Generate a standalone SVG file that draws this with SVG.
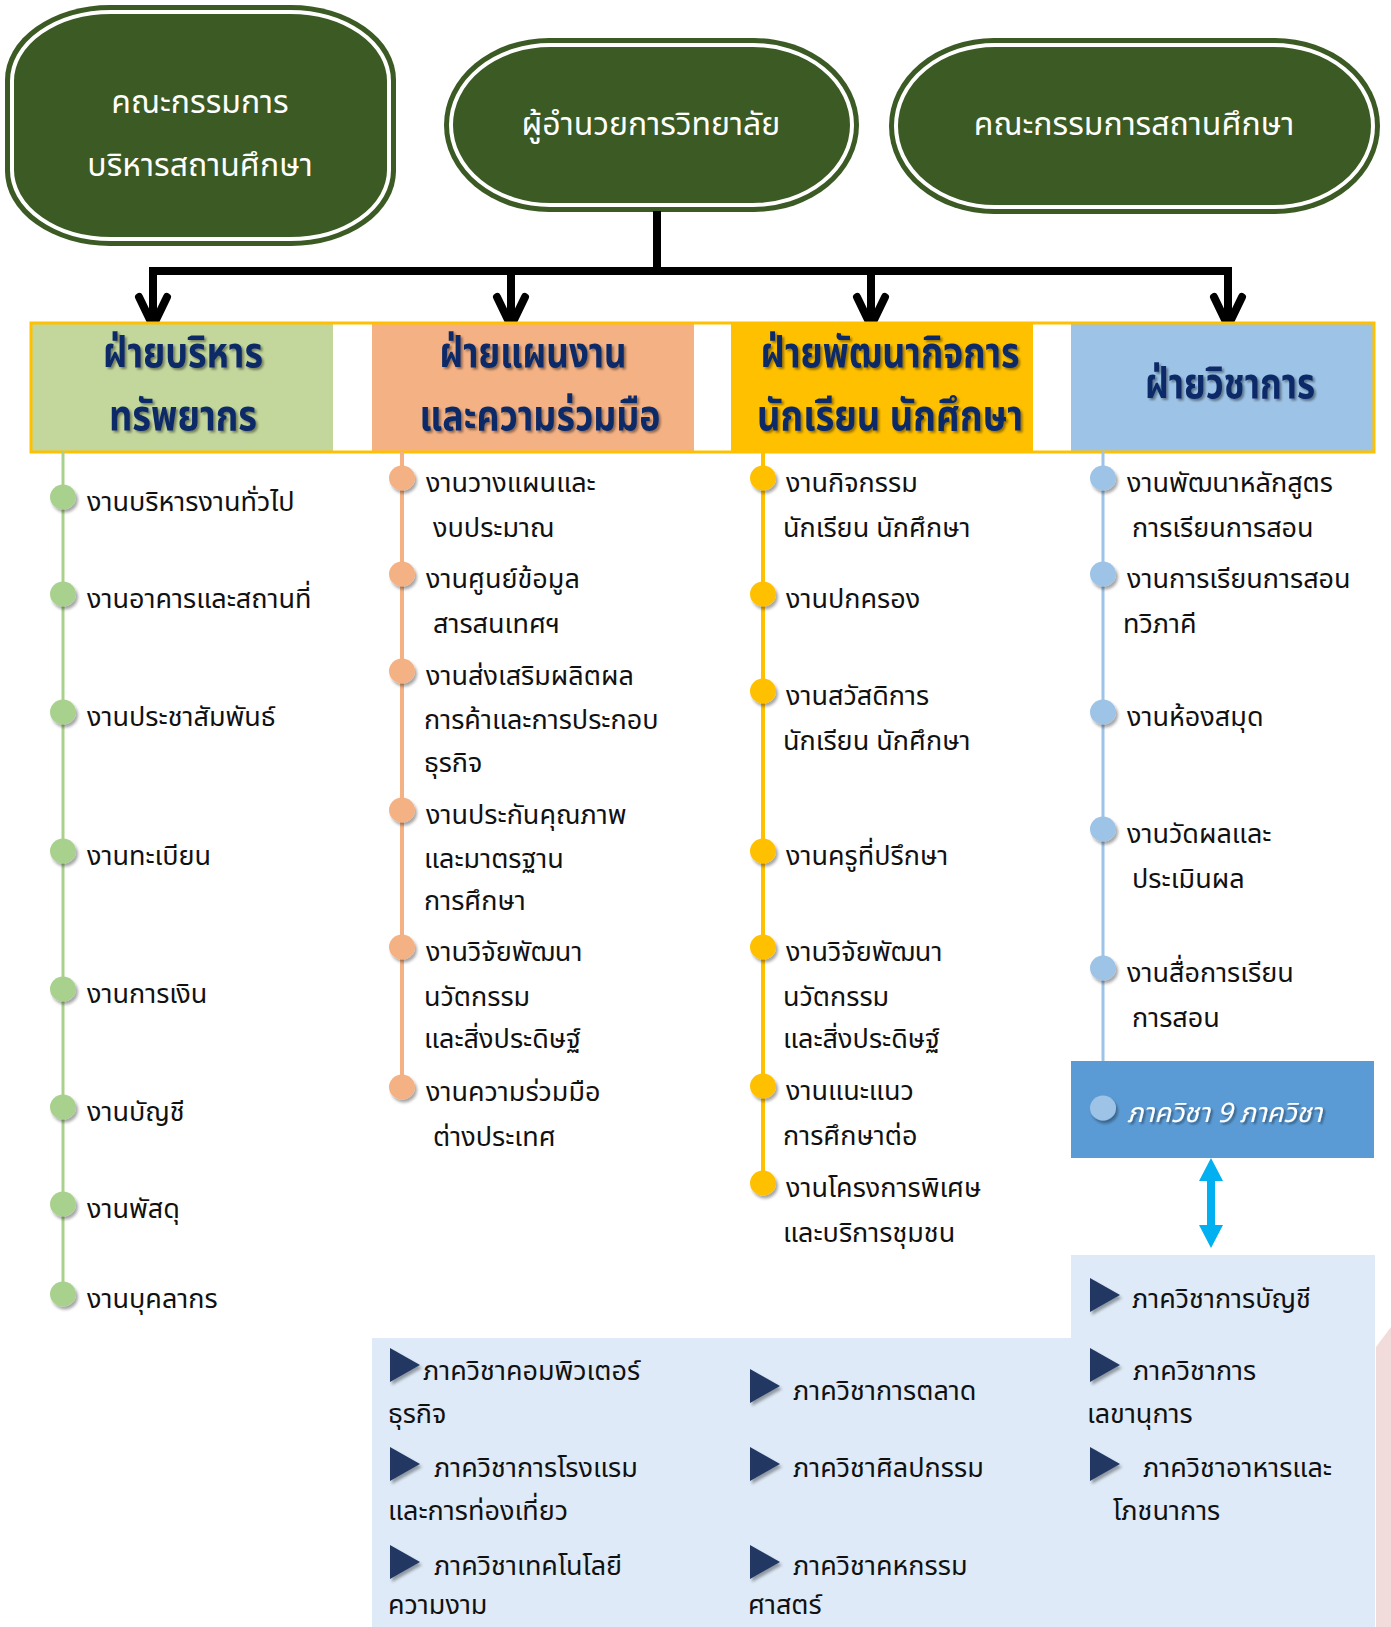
<svg xmlns="http://www.w3.org/2000/svg" width="1391" height="1627" viewBox="0 0 1391 1627">
<defs>
<style>
text{font-family:"Noto Sans Thai","Noto Sans","DejaVu Sans",sans-serif;}
.top{fill:#fff;font-size:32px;text-anchor:middle;}
.hdr{fill:#0E2A68;font-size:42px;font-weight:bold;text-anchor:middle;filter:url(#tsh);}
.it{fill:#111;font-size:27px;}
.dp{fill:#111;font-size:27px;}
.node-out{fill:#3B5A24;}
.node-ring{fill:none;stroke:#fff;stroke-width:4;}
.conn{stroke:#000;stroke-width:8;fill:none;}
.chev{stroke:#000;stroke-width:8;fill:none;stroke-linecap:round;stroke-linejoin:miter;}
.tri{fill:#203864;filter:url(#sh);}
</style>
<filter id="sh" x="-30%" y="-30%" width="170%" height="170%">
<feDropShadow dx="2" dy="3" stdDeviation="1.5" flood-color="#000" flood-opacity="0.35"/>
</filter>
<filter id="tsh" x="-10%" y="-10%" width="120%" height="130%">
<feDropShadow dx="2" dy="2" stdDeviation="1" flood-color="#000" flood-opacity="0.4"/>
</filter>
</defs>

<g id="node-board">
<rect class="node-out" x="5" y="5" width="391" height="241" rx="105" ry="75"/>
<rect class="node-ring" x="12" y="12" width="377" height="227" rx="99" ry="69"/>
<text class="top" x="200" y="113">คณะกรรมการ</text>
<text class="top" x="200" y="176">บริหารสถานศึกษา</text>
</g>
<g id="node-director">
<rect class="node-out" x="444" y="38" width="415" height="174" rx="105" ry="87"/>
<rect class="node-ring" x="451" y="45" width="401" height="160" rx="99" ry="80"/>
<text class="top" x="651" y="135">ผู้อำนวยการวิทยาลัย</text>
</g>
<g id="node-committee">
<rect class="node-out" x="889" y="38" width="491" height="176" rx="105" ry="88"/>
<rect class="node-ring" x="896" y="45" width="477" height="162" rx="99" ry="81"/>
<text class="top" x="1134" y="135">คณะกรรมการสถานศึกษา</text>
</g>

<g id="connectors">
<path class="conn" d="M657 211 V271 M149 271 H1232 M153 271 V326 M511 271 V326 M871 271 V326 M1228 271 V326"/>
<path class="chev" d="M139 297 L153 326 L167 297 M497 297 L511 326 L525 297 M857 297 L871 326 L885 297 M1214 297 L1228 326 L1242 297"/>
<path d="M1211 1158 L1223 1181 L1215 1181 L1215 1225 L1223 1225 L1211 1248 L1199 1225 L1207 1225 L1207 1181 L1199 1181 Z" fill="#00B0F0"/>
</g>

<g id="headers">
<rect x="31" y="323" width="302" height="129" fill="#C3D69B"/>
<rect x="372" y="323" width="322" height="129" fill="#F4B183"/>
<rect x="731" y="323" width="302" height="129" fill="#FFC000"/>
<rect x="1071" y="323" width="303" height="129" fill="#9DC3E6"/>
<rect x="31" y="323" width="1343" height="129" fill="none" stroke="#FFC000" stroke-width="3"/>
</g>
<g id="hdr-admin"><text class="hdr" x="183" y="367" textLength="160" lengthAdjust="spacingAndGlyphs">ฝ่ายบริหาร</text><text class="hdr" x="183" y="430" textLength="148" lengthAdjust="spacingAndGlyphs">ทรัพยากร</text></g>
<g id="hdr-plan"><text class="hdr" x="533" y="367" textLength="187" lengthAdjust="spacingAndGlyphs">ฝ่ายแผนงาน</text><text class="hdr" x="540" y="430" textLength="241" lengthAdjust="spacingAndGlyphs">และความร่วมมือ</text></g>
<g id="hdr-student"><text class="hdr" x="890" y="367" textLength="259" lengthAdjust="spacingAndGlyphs">ฝ่ายพัฒนากิจการ</text><text class="hdr" x="890" y="430" textLength="266" lengthAdjust="spacingAndGlyphs">นักเรียน นักศึกษา</text></g>
<g id="hdr-academic"><text class="hdr" x="1230" y="398" textLength="170" lengthAdjust="spacingAndGlyphs">ฝ่ายวิชาการ</text></g>

<g id="timelines">
<line x1="63" y1="452" x2="63" y2="1294" stroke="#A9D18E" stroke-width="3"/>
<line x1="402" y1="452" x2="402" y2="1087" stroke="#F4B183" stroke-width="4"/>
<line x1="763" y1="452" x2="763" y2="1183" stroke="#FFC000" stroke-width="4"/>
<line x1="1103" y1="452" x2="1103" y2="1061" stroke="#9DC3E6" stroke-width="3"/>
</g>

<g id="col-admin" fill="#A9D18E" filter="url(#sh)">
<ellipse cx="63" cy="497" rx="13" ry="12.5"/>
<ellipse cx="63" cy="594" rx="13" ry="12.5"/>
<ellipse cx="63" cy="712" rx="13" ry="12.5"/>
<ellipse cx="63" cy="851" rx="13" ry="12.5"/>
<ellipse cx="63" cy="989" rx="13" ry="12.5"/>
<ellipse cx="63" cy="1107" rx="13" ry="12.5"/>
<ellipse cx="63" cy="1204" rx="13" ry="12.5"/>
<ellipse cx="63" cy="1294" rx="13" ry="12.5"/>
</g>
<g id="items-admin">
<text class="it" x="87" y="511">งานบริหารงานทั่วไป</text>
<text class="it" x="87" y="608">งานอาคารและสถานที่</text>
<text class="it" x="87" y="726">งานประชาสัมพันธ์</text>
<text class="it" x="87" y="865">งานทะเบียน</text>
<text class="it" x="87" y="1003">งานการเงิน</text>
<text class="it" x="87" y="1121">งานบัญชี</text>
<text class="it" x="87" y="1218">งานพัสดุ</text>
<text class="it" x="87" y="1308">งานบุคลากร</text>
</g>

<g id="col-plan" fill="#F4B183" filter="url(#sh)">
<ellipse cx="402" cy="478" rx="13" ry="12.5"/>
<ellipse cx="402" cy="574" rx="13" ry="12.5"/>
<ellipse cx="402" cy="671" rx="13" ry="12.5"/>
<ellipse cx="402" cy="810" rx="13" ry="12.5"/>
<ellipse cx="402" cy="947" rx="13" ry="12.5"/>
<ellipse cx="402" cy="1087" rx="13" ry="12.5"/>
</g>
<g id="items-plan">
<text class="it" x="426" y="492">งานวางแผนและ</text>
<text class="it" x="433" y="537">งบประมาณ</text>
<text class="it" x="426" y="588">งานศูนย์ข้อมูล</text>
<text class="it" x="433" y="633">สารสนเทศฯ</text>
<text class="it" x="426" y="685">งานส่งเสริมผลิตผล</text>
<text class="it" x="424" y="729">การค้าและการประกอบ</text>
<text class="it" x="424" y="772">ธุรกิจ</text>
<text class="it" x="426" y="824">งานประกันคุณภาพ</text>
<text class="it" x="424" y="868">และมาตรฐาน</text>
<text class="it" x="424" y="910">การศึกษา</text>
<text class="it" x="426" y="961">งานวิจัยพัฒนา</text>
<text class="it" x="424" y="1006">นวัตกรรม</text>
<text class="it" x="424" y="1048">และสิ่งประดิษฐ์</text>
<text class="it" x="426" y="1101">งานความร่วมมือ</text>
<text class="it" x="433" y="1146">ต่างประเทศ</text>
</g>

<g id="col-student" fill="#FFC000" filter="url(#sh)">
<ellipse cx="763" cy="478" rx="13" ry="12.5"/>
<ellipse cx="763" cy="594" rx="13" ry="12.5"/>
<ellipse cx="763" cy="691" rx="13" ry="12.5"/>
<ellipse cx="763" cy="851" rx="13" ry="12.5"/>
<ellipse cx="763" cy="947" rx="13" ry="12.5"/>
<ellipse cx="763" cy="1086" rx="13" ry="12.5"/>
<ellipse cx="763" cy="1183" rx="13" ry="12.5"/>
</g>
<g id="items-student">
<text class="it" x="786" y="492">งานกิจกรรม</text>
<text class="it" x="783" y="537">นักเรียน นักศึกษา</text>
<text class="it" x="786" y="608">งานปกครอง</text>
<text class="it" x="786" y="705">งานสวัสดิการ</text>
<text class="it" x="783" y="750">นักเรียน นักศึกษา</text>
<text class="it" x="786" y="865">งานครูที่ปรึกษา</text>
<text class="it" x="786" y="961">งานวิจัยพัฒนา</text>
<text class="it" x="783" y="1006">นวัตกรรม</text>
<text class="it" x="783" y="1048">และสิ่งประดิษฐ์</text>
<text class="it" x="786" y="1100">งานแนะแนว</text>
<text class="it" x="783" y="1145">การศึกษาต่อ</text>
<text class="it" x="786" y="1197">งานโครงการพิเศษ</text>
<text class="it" x="783" y="1242">และบริการชุมชน</text>
</g>

<g id="col-academic" fill="#9DC3E6" filter="url(#sh)">
<ellipse cx="1103" cy="478" rx="13" ry="12.5"/>
<ellipse cx="1103" cy="574" rx="13" ry="12.5"/>
<ellipse cx="1103" cy="712" rx="13" ry="12.5"/>
<ellipse cx="1103" cy="829" rx="13" ry="12.5"/>
<ellipse cx="1103" cy="968" rx="13" ry="12.5"/>
</g>
<g id="items-academic">
<text class="it" x="1127" y="492">งานพัฒนาหลักสูตร</text>
<text class="it" x="1132" y="537">การเรียนการสอน</text>
<text class="it" x="1127" y="588">งานการเรียนการสอน</text>
<text class="it" x="1123" y="633">ทวิภาคี</text>
<text class="it" x="1127" y="726">งานห้องสมุด</text>
<text class="it" x="1127" y="843">งานวัดผลและ</text>
<text class="it" x="1132" y="888">ประเมินผล</text>
<text class="it" x="1127" y="982">งานสื่อการเรียน</text>
<text class="it" x="1132" y="1027">การสอน</text>
</g>

<g id="node-departments9">
<rect x="1071" y="1061" width="303" height="97" fill="#5B9BD5"/>
<ellipse cx="1103" cy="1108" rx="13" ry="12.5" fill="#9DC3E6" filter="url(#sh)"/>
<text x="1127" y="1122" fill="#fff" font-size="27" font-style="italic" filter="url(#tsh)">ภาควิชา 9 ภาควิชา</text>
</g>

<polygon points="1391,1327 1376,1347 1376,1627 1391,1627" fill="#F2DCDB"/>
<g id="dept-panel">
<path d="M1071 1255 H1375 V1627 H372 V1338 H1071 Z" fill="#DEEAF7"/>
</g>
<g id="dept-triangles">
<polygon class="tri" points="1090,1278 1120,1295 1090,1312"/>
<polygon class="tri" points="1090,1348 1120,1365 1090,1382"/>
<polygon class="tri" points="1090,1447 1120,1464 1090,1481"/>
<polygon class="tri" points="390,1348 420,1365 390,1382"/>
<polygon class="tri" points="390,1447 420,1464 390,1481"/>
<polygon class="tri" points="390,1545 420,1562 390,1579"/>
<polygon class="tri" points="750,1369 780,1386 750,1403"/>
<polygon class="tri" points="750,1447 780,1464 750,1481"/>
<polygon class="tri" points="750,1545 780,1562 750,1579"/>
</g>
<g id="dept-texts">
<text class="dp" x="1132" y="1308">ภาควิชาการบัญชี</text>
<text class="dp" x="1133" y="1380">ภาควิชาการ</text>
<text class="dp" x="1087" y="1423">เลขานุการ</text>
<text class="dp" x="1143" y="1477">ภาควิชาอาหารและ</text>
<text class="dp" x="1113" y="1520">โภชนาการ</text>
<text class="dp" x="423" y="1380">ภาควิชาคอมพิวเตอร์</text>
<text class="dp" x="388" y="1423">ธุรกิจ</text>
<text class="dp" x="434" y="1477">ภาควิชาการโรงแรม</text>
<text class="dp" x="388" y="1520">และการท่องเที่ยว</text>
<text class="dp" x="434" y="1575">ภาควิชาเทคโนโลยี</text>
<text class="dp" x="388" y="1614">ความงาม</text>
<text class="dp" x="793" y="1400">ภาควิชาการตลาด</text>
<text class="dp" x="793" y="1477">ภาควิชาศิลปกรรม</text>
<text class="dp" x="793" y="1575">ภาควิชาคหกรรม</text>
<text class="dp" x="748" y="1614">ศาสตร์</text>
</g>
</svg>
